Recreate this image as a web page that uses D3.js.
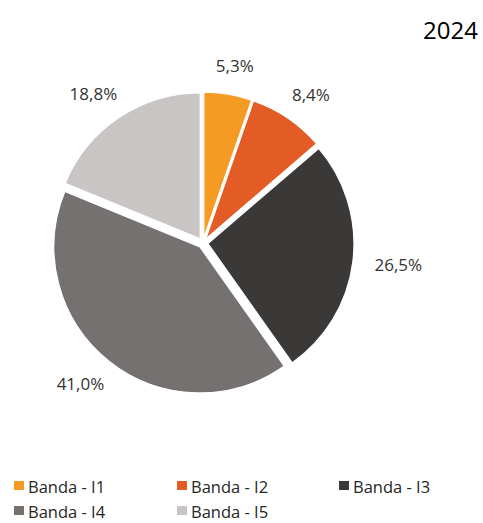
<!DOCTYPE html>
<html>
<head>
<meta charset="utf-8">
<script src="https://cdn.jsdelivr.net/npm/d3@7"></script>
<style>
  html, body { margin: 0; padding: 0; background: #fff; }
  svg { display: block; font-family: "Open Sans", "Noto Sans", sans-serif; }
</style>
</head>
<body>
<svg id="chart" width="483" height="523"></svg>
<script>
// ---- data ----
const title = "2024";
const categories = ["Banda - I1", "Banda - I2", "Banda - I3", "Banda - I4", "Banda - I5"];
const values = [5.3, 8.4, 26.5, 41.0, 18.8];
const labels = ["5,3%", "8,4%", "26,5%", "41,0%", "18,8%"];
const colors = ["#F59A23", "#E35B25", "#3B3937", "#767171", "#C9C5C4"];

// ---- layout ----
const W = 483, H = 523;
const cx = 203, cy = 243, r = 146, explode = 5, labelR = 172;

const svg = d3.select("#chart");

svg.append("text")
  .attr("x", 478).attr("y", 39)
  .attr("text-anchor", "end")
  .attr("font-size", 24)
  .attr("font-weight", 500)
  .attr("fill", "#000")
  .text(title);

const data = categories.map((c, i) => ({ cat: c, value: values[i], label: labels[i], color: colors[i] }));

const pie = d3.pie().value(d => d.value).sort(null);
const arc = d3.arc().innerRadius(0).outerRadius(r);
const arcs = pie(data);

const g = svg.append("g").attr("transform", `translate(${cx},${cy})`);

g.selectAll("path.slice").data(arcs).join("path")
  .attr("class", "slice")
  .attr("d", arc)
  .attr("fill", d => d.data.color)
  .attr("stroke", "#fff")
  .attr("stroke-width", 1.2)
  .attr("transform", d => {
    const a = (d.startAngle + d.endAngle) / 2;
    return `translate(${explode * Math.sin(a)},${-explode * Math.cos(a)})`;
  });

// labels placed outside end
const lbl = g.selectAll("text.lbl").data(arcs).join("text")
  .attr("class", "lbl")
  .attr("font-size", 17)
  .attr("fill", "#333")
  .attr("text-anchor", "middle")
  .attr("dominant-baseline", "central")
  .text(d => d.data.label);

lbl.each(function(d) {
  const a = (d.startAngle + d.endAngle) / 2;
  const hw = this.getComputedTextLength() / 2 + 1;
  const hh = 8;
  const x = labelR * Math.sin(a) + hw * Math.sin(a);
  const y = -labelR * Math.cos(a) - hh * Math.cos(a);
  d3.select(this).attr("x", x).attr("y", y);
});

// legend
const legCols = [14, 177, 339];
const legRows = [493, 518];
const leg = svg.selectAll("g.leg").data(data).join("g")
  .attr("class", "leg")
  .attr("transform", (d, i) => `translate(${legCols[i % 3]},${legRows[Math.floor(i / 3)]})`);
leg.append("rect")
  .attr("x", 0).attr("y", -12).attr("width", 10).attr("height", 9)
  .attr("fill", d => d.color);
leg.append("text")
  .attr("x", 14).attr("y", 0)
  .attr("font-size", 16.5)
  .attr("fill", "#262626")
  .text(d => d.cat);
</script>
</body>
</html>
